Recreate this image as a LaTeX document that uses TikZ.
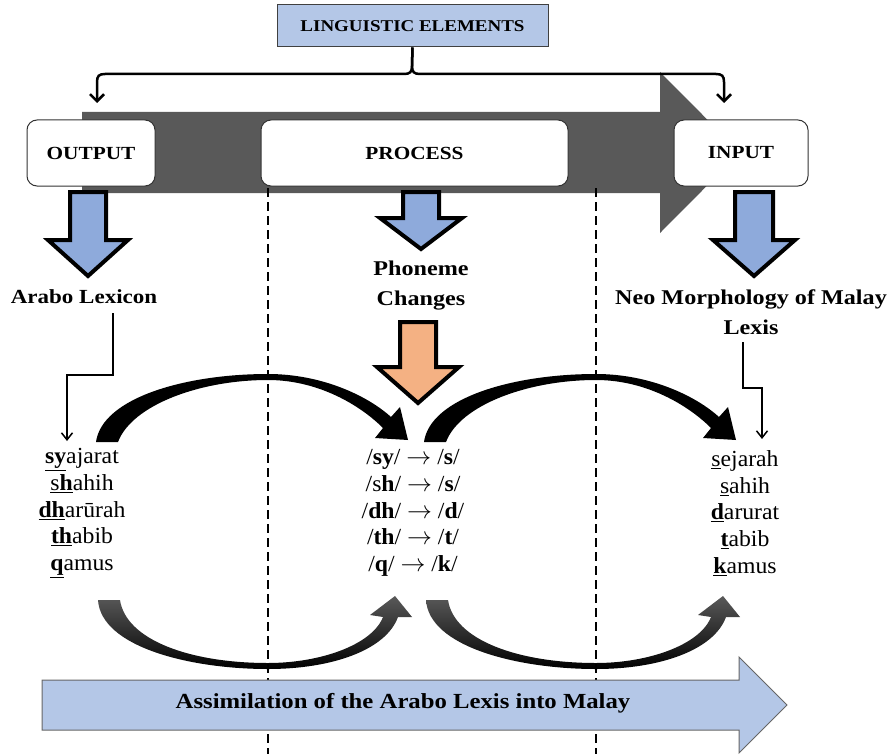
\documentclass[tikz,border=0pt]{standalone}
\usepackage{fontspec}
\setmainfont[FakeStretch=1.15]{Liberation Serif}
\newfontfamily\lstfont[FakeStretch=1.03]{Liberation Serif}
\usetikzlibrary{arrows.meta}
\definecolor{blueA}{HTML}{8EAADB}
\definecolor{blueL}{HTML}{B4C7E7}
\definecolor{orangeA}{HTML}{F4B183}
\definecolor{darkA}{HTML}{595959}
\begin{document}
\begin{tikzpicture}[x=1pt,y=-1pt,
  box/.style={draw=black!80, fill=white, rounded corners=10pt, line width=1pt,
    font=\fontsize{18.5}{22}\selectfont\bfseries, inner sep=0pt, minimum height=66pt},
  lbl/.style={align=center, font=\fontsize{21}{30}\selectfont\bfseries, inner sep=0pt},
  lst/.style={align=center, font=\lstfont\fontsize{23}{26.7}\selectfont, inner sep=0pt},
  blockarrow/.style={draw=black, line width=4pt, line join=miter},
  crescent/.style={fill=black},
  dashline/.style={line width=2pt, dash pattern=on 9pt off 5pt},
  bracket/.style={line width=2.5pt, -{Straight Barb[length=7pt,width=14pt]}},
  thinarr/.style={line width=1.5pt, -{Straight Barb[length=7pt,width=11pt]}}
]
\useasboundingbox (0,0) rectangle (893,754);

% big dark arrow
\fill[darkA] (82,112) -- (660,112) -- (660,72) -- (740,152.5) -- (660,233) -- (660,193) -- (82,193) -- cycle;

% crescent arrows
\foreach \s in {0,328}{
\begin{scope}[xshift=\s pt]
\fill[crescent] (96,442) .. controls (102,398) and (185,374) .. (268,374)
  .. controls (322,374) and (368,396) .. (391,417) -- (400,407) -- (408,440) -- (375,438) -- (383,428)
  .. controls (360,405) and (318,380) .. (268,380)
  .. controls (200,380) and (132,405) .. (118,442) -- cycle;
\shade[top color=black!65, bottom color=black] (98,600) .. controls (101,647) and (190,669) .. (268,669)
  .. controls (332,669) and (386,650) .. (398,617) -- (412,617) -- (395,596) -- (370,615) -- (383,617)
  .. controls (372,645) and (320,663) .. (268,663)
  .. controls (190,663) and (126,640) .. (120,600) -- cycle;
\end{scope}}

% dashed separators
\draw[dashline] (268,188) -- (268,754);
\draw[dashline] (596,188) -- (596,754);

% boxes
\node[box, minimum width=128pt] (out) at (91,153) {OUTPUT};
\node[box, minimum width=307pt] (proc) at (414.5,153) {PROCESS};
\node[box, minimum width=134pt] (inp) at (741,153) {INPUT};
\node[draw=black!75, fill=blueL, line width=1pt, minimum width=271pt, minimum height=42pt,
  inner sep=0pt, font=\fontsize{16.5}{20}\selectfont\bfseries] (le) at (412.5,26) {LINGUISTIC ELEMENTS};

% bracket
\coordinate (bl) at (97,103);
\coordinate (br) at (724,103);
\draw[bracket] (le.south) -- (412,66) .. controls (412,72) and (410,74) .. (404,74) -- (105,74)
  .. controls (99,74) and (97,76) .. (97,82) -- (bl);
\draw[bracket] (le.south) -- (412,66) .. controls (412,72) and (414,74) .. (420,74) -- (716,74)
  .. controls (722,74) and (724,76) .. (724,82) -- (br);

% block arrows
\filldraw[blockarrow, fill=blueA] (70,192) -- (106,192) -- (106,240) -- (128,240) -- (88,276) -- (48,240) -- (70,240) -- cycle;
\filldraw[blockarrow, fill=blueA] (403,192) -- (439,192) -- (439,218) -- (462,218) -- (421,249) -- (380,218) -- (403,218) -- cycle;
\filldraw[blockarrow, fill=blueA] (735,192) -- (773,192) -- (773,240) -- (795,240) -- (754,276) -- (713,240) -- (735,240) -- cycle;
\filldraw[blockarrow, fill=orangeA] (400,322) -- (436,322) -- (436,367) -- (459,367) -- (418,403) -- (377,367) -- (400,367) -- cycle;

% labels
\node[lbl, font=\fontsize{20}{30}\selectfont\bfseries] (al) at (84,297) {Arabo Lexicon};
\node[lbl] (pc) at (421,286) {Phoneme\\Changes};
\node[lbl] (nm) at (751,312) {Neo Morphology of Malay\\Lexis};

% thin connectors
\coordinate (alstart) at (113,313);
\coordinate (alend) at (67,441);
\draw[thinarr] (alstart) -- ++(0,62) -| (alend);
\coordinate (nmstart) at (743,342);
\coordinate (nmend) at (762,439);
\draw[thinarr] (nmstart) -- ++(0,46) -| (nmend);

% word lists
\node[lst] (lw) at (82,513) {\underline{\textbf{sy}}ajarat\\ \underline{s\textbf{h}}ahih\\ \underline{\textbf{dh}}arūrah\\ \underline{\textbf{th}}abib\\ \underline{\textbf{q}}amus};
\node[lst] (mw) at (413,513) {/\textbf{sy}/ $\rightarrow$ /\textbf{s}/\\ /s\textbf{h}/ $\rightarrow$ /\textbf{s}/\\ /\textbf{dh}/ $\rightarrow$ /\textbf{d}/\\ /\textbf{th}/ $\rightarrow$ /\textbf{t}/\\ /\textbf{q}/ $\rightarrow$ /\textbf{k}/};
\node[lst] (rw) at (745,513) {\underline{s}ejarah\\ \underline{s}ahih\\ \underline{\textbf{d}}arurat\\ \underline{\textbf{t}}abib\\ \underline{\textbf{k}}amus};

% bottom arrow
\filldraw[draw=black!60, fill=blueL, line width=1pt] (42,680) -- (739,680) -- (739,657) -- (787,705) -- (739,753) -- (739,730) -- (42,730) -- cycle;
\node[font=\fontsize{21.5}{26}\selectfont\bfseries, inner sep=0pt] (as) at (403,703) {Assimilation of the Arabo Lexis into Malay};
\end{tikzpicture}
\end{document}
